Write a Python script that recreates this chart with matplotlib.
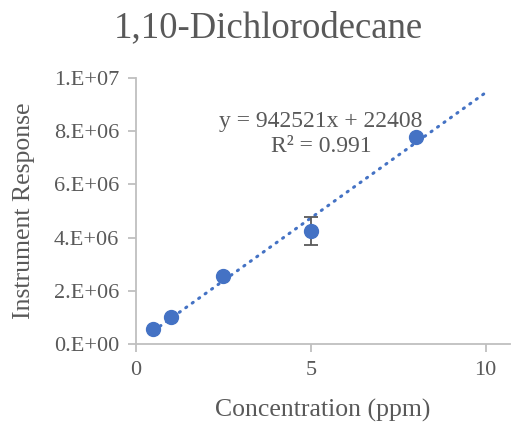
import matplotlib
matplotlib.use("Agg")
import matplotlib.pyplot as plt
import numpy as np

plt.rcParams['font.family'] = ['Liberation Serif', 'DejaVu Serif']

concentration = [0.5, 1.0, 2.5, 5.0, 8.0]
response = [0.56e6, 1.0e6, 2.56e6, 4.25e6, 7.78e6]
response_err = [0, 0, 0, 0.52e6, 0]
slope = 942521
intercept = 22408
r_squared = 0.991
y_ticks = [0, 2e6, 4e6, 6e6, 8e6, 1e7]
y_tick_labels = ["0.E+00", "2.E+06", "4.E+06", "6.E+06", "8.E+06", "1.E+07"]
x_ticks = [0, 5, 10]

blue = "#4472C4"
axis_gray = "#BFBFBF"
text_gray = "#595959"

W, H = 512, 424
fig = plt.figure(figsize=(W / 100, H / 100), dpi=100)
ax = fig.add_axes([136 / W, 1 - 344 / H, (510 - 136) / W, (344 - 78) / H])

# dotted linear trendline
xt = np.array([0.5, 10.0])
ax.plot(xt, slope * xt + intercept, color=blue, lw=2.2, linestyle=(0, (0.4, 2.2)),
        dash_capstyle='round', zorder=2)

ax.errorbar(concentration, response, yerr=response_err, fmt='none', ecolor=text_gray,
            elinewidth=1.3, capsize=5, capthick=1.3, zorder=3)
ax.plot(concentration, response, 'o', color=blue, markersize=10, zorder=4)

ax.set_xlim(0, 10.7)
ax.set_ylim(0, 1e7)
ax.set_xticks(x_ticks)
ax.set_xticklabels([str(t) for t in x_ticks])
ax.set_yticks(y_ticks)
ax.set_yticklabels(y_tick_labels)

for s in ['top', 'right']:
    ax.spines[s].set_visible(False)
for s in ['left', 'bottom']:
    ax.spines[s].set_color(axis_gray)
    ax.spines[s].set_linewidth(1.3)
ax.tick_params(axis='both', colors=axis_gray, labelcolor=text_gray, labelsize=16,
               length=6, width=1.3, direction='out')
ax.tick_params(axis='x', pad=6)
ax.tick_params(axis='y', pad=6)

fig.text(323 / W, 1 - 410 / H, "Concentration (ppm)", ha='center', va='center',
         fontsize=18.5, color=text_gray)
fig.text(24 / W, 1 - 211 / H, "Instrument Response", ha='center', va='center',
         rotation=90, fontsize=18.5, color=text_gray)

fig.text(268 / W, 1 - 28 / H, "1,10-Dichlorodecane", ha='center', va='center',
         fontsize=26.5, color=text_gray)

fig.text(321 / W, 1 - 121 / H, f"y = {slope}x + {intercept}",
         ha='center', va='center', fontsize=17, color=text_gray)
fig.text(321 / W, 1 - 147 / H, f"R² = {r_squared}",
         ha='center', va='center', fontsize=17, color=text_gray)

fig.savefig("out.png", dpi=100)
